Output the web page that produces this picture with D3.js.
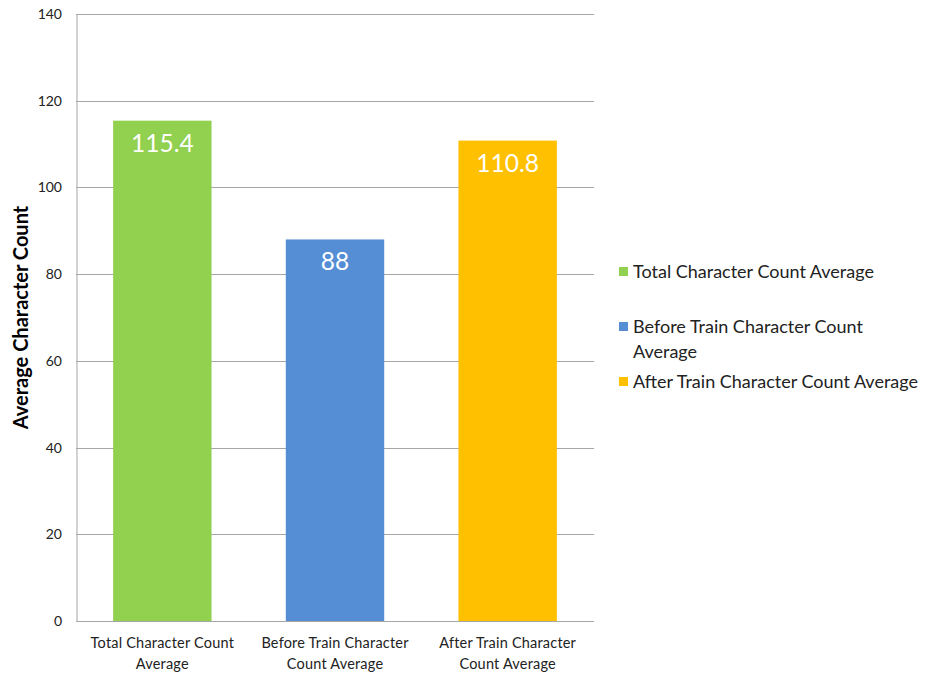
<!DOCTYPE html>
<html>
<head>
<meta charset="utf-8">
<script src="https://cdn.jsdelivr.net/npm/d3@7"></script>
<style>
  html, body { margin: 0; padding: 0; background: #fff; }
  svg { display: block; font-family: Lato, "Open Sans", sans-serif; }
</style>
</head>
<body>
<svg id="chart" width="926" height="673"></svg>
<script>
// Average character counts per group
const categories = [
  ["Total Character Count", "Average"],
  ["Before Train Character", "Count Average"],
  ["After Train Character", "Count Average"]
];
const seriesNames = [
  "Total Character Count Average",
  "Before Train Character Count Average",
  "After Train Character Count Average"
];
const values = [115.4, 88, 110.8];
const colors = ["#92D050", "#558ED5", "#FFC000"];
const yTicks = [0, 20, 40, 60, 80, 100, 120, 140];

const svg = d3.select("#chart");
const margin = { left: 76, top: 14, right: 332, bottom: 52 };
const W = 926, H = 673;
const plotW = W - margin.left - margin.right;
const plotH = H - margin.top - margin.bottom;

const g = svg.append("g").attr("transform", `translate(${margin.left},${margin.top})`);

const x = d3.scaleBand().domain(d3.range(categories.length)).range([0, plotW]).paddingInner(0.43).paddingOuter(0.215);
const y = d3.scaleLinear().domain([0, 140]).range([plotH, 0]);

// gridlines
g.append("g").selectAll("line").data(yTicks).join("line")
  .attr("x1", 0).attr("x2", plotW)
  .attr("y1", d => Math.round(y(d)) + 0.5).attr("y2", d => Math.round(y(d)) + 0.5)
  .attr("stroke", "#a6a6a6").attr("stroke-width", 1);

// y axis
const yAxis = g.append("g").call(d3.axisLeft(y).tickValues(yTicks).tickSize(0).tickPadding(14));
yAxis.select(".domain").attr("stroke", "#a6a6a6").attr("transform", "translate(0.5,0)");
yAxis.selectAll("text").attr("font-size", 14).attr("fill", "#222").attr("font-family", "Lato, sans-serif");

// bars
g.selectAll("rect.bar").data(values).join("rect").attr("class", "bar")
  .attr("x", (d, i) => x(i)).attr("width", x.bandwidth())
  .attr("y", d => y(d)).attr("height", d => plotH - y(d))
  .attr("fill", (d, i) => colors[i]);

// value labels
g.selectAll("text.val").data(values).join("text").attr("class", "val")
  .attr("x", (d, i) => x(i) + x.bandwidth() / 2)
  .attr("y", d => y(d) + 31)
  .attr("text-anchor", "middle").attr("fill", "#fff").attr("font-size", 24.5)
  .text(d => d);

// x axis line
g.append("line").attr("x1", 0).attr("x2", plotW)
  .attr("y1", plotH + 0.5).attr("y2", plotH + 0.5).attr("stroke", "#a6a6a6");

// category labels
categories.forEach((lines, i) => {
  const t = g.append("text").attr("text-anchor", "middle").attr("font-size", 14.5).attr("fill", "#222")
    .attr("letter-spacing", 0.2)
    .attr("transform", `translate(${x(i) + x.bandwidth() / 2},${plotH + 27})`);
  lines.forEach((ln, j) => t.append("tspan").attr("x", 0).attr("dy", j === 0 ? 0 : 21).text(ln));
});

// y title
svg.append("text")
  .attr("transform", `translate(28,${margin.top + plotH / 2}) rotate(-90)`)
  .attr("text-anchor", "middle").attr("font-size", 20).attr("font-weight", "bold").attr("fill", "#000")
  .text("Average Character Count");

// legend
const legendRows = [
  { lines: ["Total Character Count Average"], y: 272 },
  { lines: ["Before Train Character Count", "Average"], y: 327 },
  { lines: ["After Train Character Count Average"], y: 382 }
];
const leg = svg.append("g");
legendRows.forEach((r, i) => {
  leg.append("rect").attr("x", 619).attr("y", r.y - 5).attr("width", 9).attr("height", 9).attr("fill", colors[i]);
  const t = leg.append("text").attr("x", 633).attr("y", r.y + 6).attr("font-size", 18).attr("fill", "#222");
  r.lines.forEach((ln, j) => t.append("tspan").attr("x", 633).attr("dy", j === 0 ? 0 : 25).text(ln));
});
</script>
</body>
</html>
